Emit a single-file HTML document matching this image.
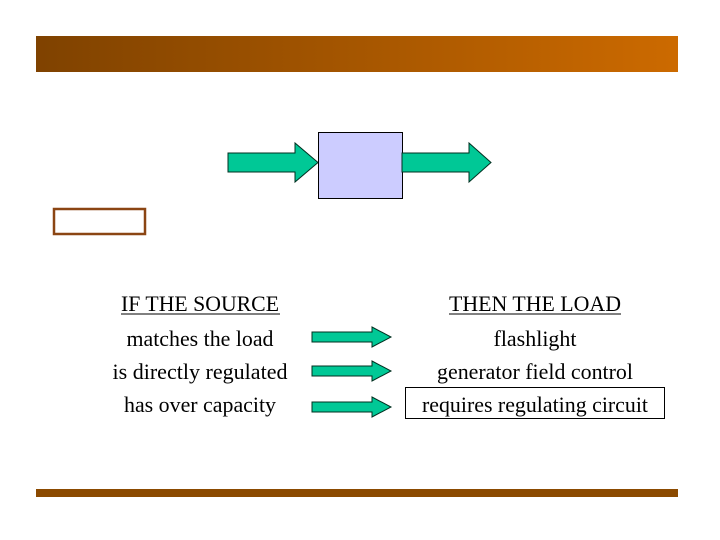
<!DOCTYPE html>
<html><head><meta charset="utf-8"><style>
html,body{margin:0;padding:0;background:#fff;}
svg{display:block;}
text{font-family:"Liberation Serif",serif;font-size:22px;fill:#000;}
</style></head><body>
<svg width="720" height="540" viewBox="0 0 720 540" xmlns="http://www.w3.org/2000/svg">
<defs>
<linearGradient id="g" x1="0" x2="1" y1="0" y2="0">
<stop offset="0" stop-color="#7f4200"/>
<stop offset="1" stop-color="#cc6a00"/>
</linearGradient>
</defs>
<rect x="36" y="36" width="642" height="36" fill="url(#g)"/>
<rect x="36" y="489" width="642" height="8" fill="#8b4a00"/>
<rect x="54" y="209" width="91" height="25" fill="none" stroke="#8b4513" stroke-width="2.5"/>
<polygon points="228,153 295,153 295,143 318,162.5 295,182 295,172 228,172" fill="#00c896" stroke="#003020" stroke-width="1"/>
<rect x="318.5" y="132.5" width="84" height="66" fill="#ccccff" stroke="#000" stroke-width="1"/>
<polygon points="402,153 469,153 469,143 491,162.5 469,182 469,172 402,172" fill="#00c896" stroke="#003020" stroke-width="1"/>
<polygon points="312,332 372,332 372,327 391,337 372,347 372,342 312,342" fill="#00c896" stroke="#003020" stroke-width="1"/>
<polygon points="312,366 372,366 372,361 391,371 372,381 372,376 312,376" fill="#00c896" stroke="#003020" stroke-width="1"/>
<polygon points="312,402 372,402 372,397 391,407 372,417 372,412 312,412" fill="#00c896" stroke="#003020" stroke-width="1"/>
<rect x="405.5" y="387.5" width="259" height="31" fill="none" stroke="#000" stroke-width="1"/>
<text x="200" y="311" text-anchor="middle" textLength="158" lengthAdjust="spacingAndGlyphs">IF THE SOURCE</text>
<line x1="121" y1="314" x2="280" y2="314" stroke="#000" stroke-width="1"/>
<text x="200" y="346" text-anchor="middle" textLength="147" lengthAdjust="spacingAndGlyphs">matches the load</text>
<text x="200" y="379" text-anchor="middle" textLength="175" lengthAdjust="spacingAndGlyphs">is directly regulated</text>
<text x="200" y="412" text-anchor="middle" textLength="152" lengthAdjust="spacingAndGlyphs">has over capacity</text>
<text x="535" y="311" text-anchor="middle" textLength="172" lengthAdjust="spacingAndGlyphs">THEN THE LOAD</text>
<line x1="449" y1="314" x2="621" y2="314" stroke="#000" stroke-width="1"/>
<text x="535" y="346" text-anchor="middle" textLength="83" lengthAdjust="spacingAndGlyphs">flashlight</text>
<text x="535" y="379" text-anchor="middle" textLength="196" lengthAdjust="spacingAndGlyphs">generator field control</text>
<text x="535" y="412" text-anchor="middle" textLength="226" lengthAdjust="spacingAndGlyphs">requires regulating circuit</text>
</svg>
</body></html>
